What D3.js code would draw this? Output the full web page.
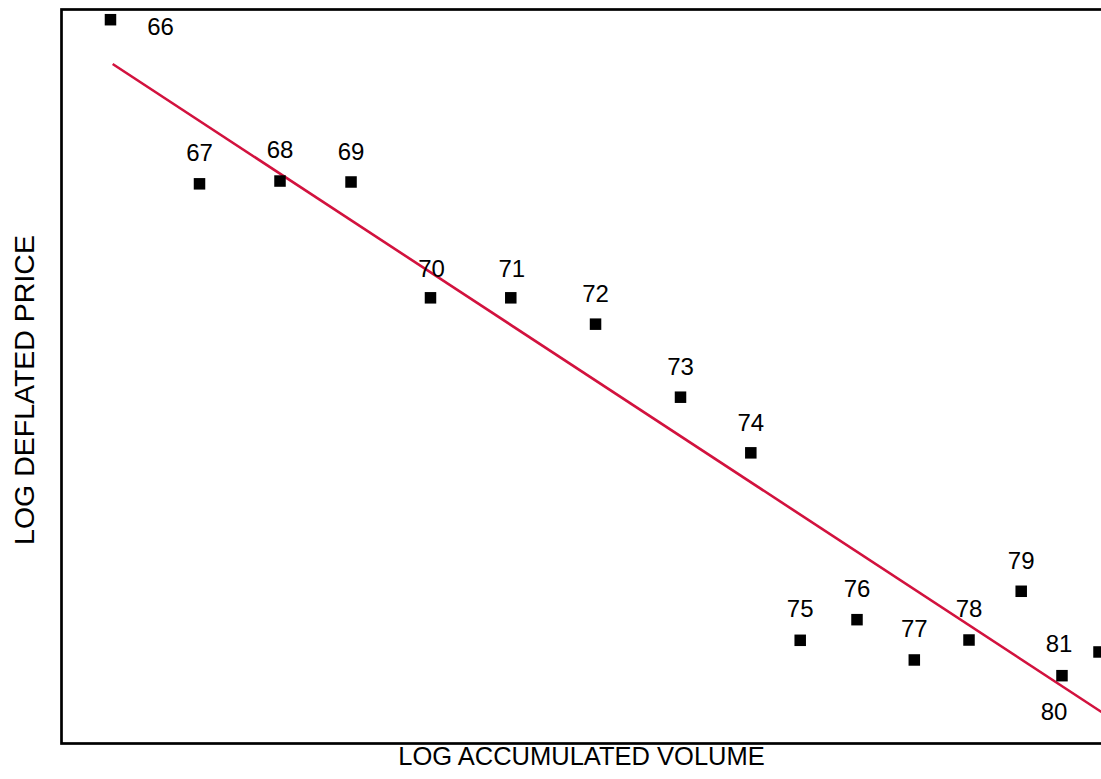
<!DOCTYPE html>
<html>
<head>
<meta charset="utf-8">
<script src="https://cdn.jsdelivr.net/npm/d3@7"></script>
<style>
  html, body { margin: 0; padding: 0; background: #ffffff; }
  svg { display: block; font-family: Arial, "Liberation Sans", sans-serif; }
</style>
</head>
<body>
<svg id="chart" width="1101" height="779"></svg>
<script>
// Years (19xx) shown as point labels
const years = ["66", "67", "68", "69", "70", "71", "72", "73", "74", "75", "76", "77", "78", "79", "80", "81"];
// Log accumulated volume (arbitrary log units)
const logVolume = [0.471, 1.327, 2.101, 2.784, 3.548, 4.320, 5.135, 5.952, 6.628, 7.103, 7.649, 8.200, 8.726, 9.228, 9.620, 9.976];
// Log deflated price (arbitrary log units)
const logPrice = [9.861, 7.625, 7.663, 7.650, 6.072, 6.072, 5.713, 4.718, 3.960, 1.406, 1.687, 1.138, 1.410, 2.074, 0.924, 1.247];
// Fitted experience-curve line, start and end
const fitVolume = [0.492, 10.0];
const fitPrice = [9.257, 0.429];

// Label placement relative to each marker: [dx, dy] in px
const labelOffset = [
  [50, 15], [0, -23], [0, -23], [0, -22], [1, -21], [1, -21], [0, -22], [0, -22],
  [0, -22], [0, -23], [0, -23], [0, -23], [0, -23], [0, -22], [-8, 44], [-40, 0]
];

const svg = d3.select("#chart");
const plot = { left: 61.5, right: 1101.5, top: 9.5, bottom: 743.5 };

const x = d3.scaleLinear().domain([0, 10]).range([plot.left, plot.right]);
const y = d3.scaleLinear().domain([0, 10]).range([plot.bottom, plot.top]);

const points = years.map((yr, i) => ({ year: yr, vol: logVolume[i], price: logPrice[i], off: labelOffset[i] }));

// Frame around the plotting area
svg.append("rect")
  .attr("x", plot.left)
  .attr("y", plot.top)
  .attr("width", 1104 - plot.left)
  .attr("height", plot.bottom - plot.top)
  .attr("fill", "none")
  .attr("stroke", "#000")
  .attr("stroke-width", 2.7);

// Fitted line
const fit = fitVolume.map((v, i) => [v, fitPrice[i]]);
svg.append("path")
  .datum(fit)
  .attr("d", d3.line().x(d => x(d[0])).y(d => y(d[1])))
  .attr("fill", "none")
  .attr("stroke", "#d2123e")
  .attr("stroke-width", 2.6);

// Square markers
const size = 11.5;
svg.append("g").selectAll("rect")
  .data(points)
  .join("rect")
  .attr("x", d => x(d.vol) - size / 2)
  .attr("y", d => y(d.price) - size / 2)
  .attr("width", size)
  .attr("height", size)
  .attr("fill", "#000");

// Year labels
svg.append("g").selectAll("text")
  .data(points)
  .join("text")
  .attr("x", d => x(d.vol) + d.off[0])
  .attr("y", d => y(d.price) + d.off[1])
  .attr("text-anchor", "middle")
  .attr("font-size", 24)
  .attr("fill", "#000")
  .text(d => d.year);

// Axis titles
svg.append("text")
  .attr("x", 581.5)
  .attr("y", 765)
  .attr("text-anchor", "middle")
  .attr("font-size", 25.5)
  .attr("fill", "#000")
  .text("LOG ACCUMULATED VOLUME");

svg.append("text")
  .attr("transform", "translate(33.5,390) rotate(-90)")
  .attr("text-anchor", "middle")
  .attr("font-size", 28.5)
  .attr("fill", "#000")
  .text("LOG DEFLATED PRICE");
</script>
</body>
</html>
